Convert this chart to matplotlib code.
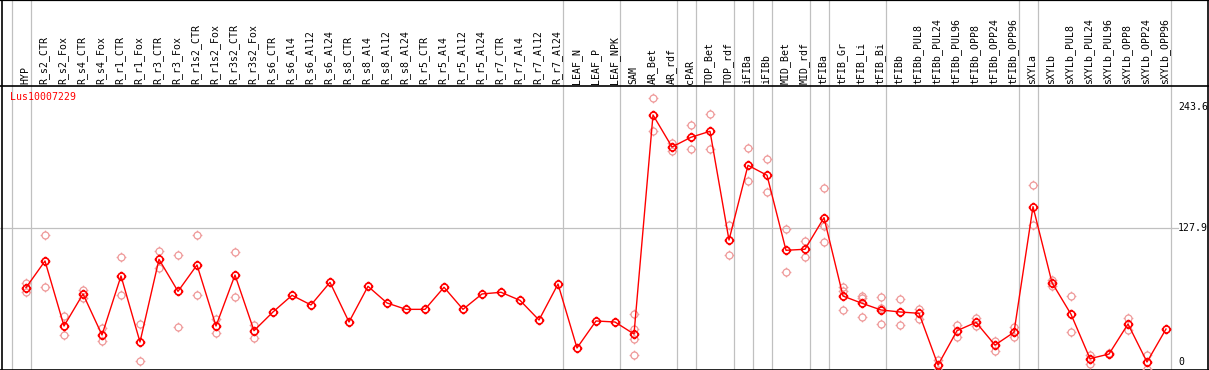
# plot.py
# Expression profile of Lus10007229 across tissues / treatments

import matplotlib
matplotlib.use("Agg")
import matplotlib.pyplot as plt
from matplotlib.path import Path

gene = "Lus10007229"

samples = [
    "HYP", "R_s2_CTR", "R_s2_Fox", "R_s4_CTR", "R_s4_Fox", "R_r1_CTR", "R_r1_Fox",
    "R_r3_CTR", "R_r3_Fox", "R_r1s2_CTR", "R_r1s2_Fox", "R_r3s2_CTR", "R_r3s2_Fox",
    "R_s6_CTR", "R_s6_Al4", "R_s6_Al12", "R_s6_Al24", "R_s8_CTR", "R_s8_Al4",
    "R_s8_Al12", "R_s8_Al24", "R_r5_CTR", "R_r5_Al4", "R_r5_Al12", "R_r5_Al24",
    "R_r7_CTR", "R_r7_Al4", "R_r7_Al12", "R_r7_Al24", "LEAF_N", "LEAF_P", "LEAF_NPK",
    "SAM", "AR_Bet", "AR_rdf", "cPAR", "TOP_Bet", "TOP_rdf", "iFIBa", "iFIBb",
    "MID_Bet", "MID_rdf", "tFIBa", "tFIB_Gr", "tFIB_Li", "tFIB_Bi", "tFIBb",
    "tFIBb_PUL8", "tFIBb_PUL24", "tFIBb_PUL96", "tFIBb_OPP8", "tFIBb_OPP24",
    "tFIBb_OPP96", "sXYLa", "sXYLb", "sXYLb_PUL8", "sXYLb_PUL24", "sXYLb_PUL96",
    "sXYLb_OPP8", "sXYLb_OPP24", "sXYLb_OPP96",
]

means = [
    71.0, 96.5, 34.4, 65.0, 25.8, 82.2, 19.1, 98.1, 67.5, 92.7, 34.4, 83.1, 29.9,
    47.8, 63.7, 54.5, 76.1, 38.2, 72.3, 56.4, 50.3, 50.3, 71.4, 50.3, 65.0,
    66.6, 58.9, 40.1, 74.5, 13.4, 39.2, 38.2,
    26.7, 236.0, 205.4, 214.7, 220.4, 116.5, 187.9, 178.4, 106.7, 107.7, 137.9,
    63.0, 56.1, 49.7, 47.8, 46.5, -2.9, 29.9, 37.9, 16.2, 28.4,
    148.4, 75.8, 45.6, 3.2, 7.6, 36.3, 0.0, 31.5,
]

replicates = [
    [66.6, 75.4], [121.0, 71.4], [43.9, 25.8], [68.8, 60.9], [32.2, 20.1],
    [100.3, 63.7], [36.0, 1.0], [106.0, 89.5], [102.2, 33.1], [121.0, 63.7],
    [41.1, 27.4], [104.8, 62.1], [35.6, 22.6],
    [], [], [], [], [], [], [], [], [], [], [], [], [], [], [], [], [], [], [],
    [45.9, 31.2, 22.3, 6.4], [251.9, 220.7], [208.9, 201.9], [226.4, 203.2],
    [236.9, 203.2], [130.9, 102.2], [204.1, 172.6], [193.6, 162.1],
    [126.8, 85.7], [115.3, 100.0], [165.9, 130.2, 114.9],
    [71.9, 67.8, 49.7], [63.0, 60.9, 43.3], [61.8, 51.3, 36.0], [59.9, 35.1],
    [50.9, 41.4], [1.9, -7.7], [35.1, 24.2], [42.3, 34.7], [20.3, 10.8],
    [33.1, 24.2], [168.8, 131.2], [78.3, 72.9], [62.8, 28.4], [6.7, -1.9],
    [8.3], [42.0, 30.3], [6.7, -7.0], [],
]

# separators are drawn after these sample indices
group_ends = [-1, 0, 28, 31, 34, 35, 37, 38, 39, 41, 42, 45, 52, 53, 60]
scale_labels = [243.6, 127.9, 0]


def tick_circle():
    # hollow circle with four small ticks, like the original markers
    circ = Path.unit_circle()
    ticks = Path(
        [(0, 1), (0, 1.4), (0, -1), (0, -1.4), (1, 0), (1.4, 0), (-1, 0), (-1.4, 0)],
        [Path.MOVETO, Path.LINETO] * 4,
    )
    return Path.make_compound_path(circ, ticks)


W, H = 1209, 370
fig = plt.figure(figsize=(W / 100, H / 100), dpi=100)
ax = fig.add_axes([0, 0, 1, 1])
ax.axis("off")

# pixel layout: column i at x = 26 + 19*i, value 0 at y=362, 1.0468 px per unit
ax.set_xlim(-26 / 19, (W - 26) / 19)
ax.set_ylim((362 - H) / 1.0468, 362 / 1.0468)

mono = "DejaVu Sans Mono"
grey = "#c0c0c0"

for g in group_ends:
    ax.axvline(g + 0.24, color=grey, lw=0.9, zorder=1)
ax.axhline(127.9, xmax=1178 / W, color=grey, lw=0.9, zorder=1)

# frame and header separator
ax.plot([0, 1], [1 - 85.5 / H] * 2, transform=ax.transAxes, color="black", lw=1.2, clip_on=False)
ax.plot([0, 1], [0.999, 0.999], transform=ax.transAxes, color="black", lw=1.6, clip_on=False)
ax.plot([0, 1], [0.5 / H, 0.5 / H], transform=ax.transAxes, color="black", lw=1.2, clip_on=False)
ax.plot([1.5 / W, 1.5 / W], [0, 1], transform=ax.transAxes, color="black", lw=1.2, clip_on=False)
ax.plot([1207.5 / W] * 2, [0, 1], transform=ax.transAxes, color="black", lw=1.2, clip_on=False)

xs = list(range(len(samples)))
marker = tick_circle()

rx, ry = [], []
for i, reps in enumerate(replicates):
    for v in reps:
        rx.append(i)
        ry.append(v)
ax.plot(rx, ry, linestyle="none", marker=marker, ms=7, mfc="none",
        mec="#ef9a9a", mew=0.9, zorder=2)

ax.plot(xs, means, color="red", lw=1.0, zorder=3)
ax.plot(xs, means, linestyle="none", marker=marker, ms=7, mfc="none",
        mec="red", mew=1.2, zorder=4)

# column labels in the header
xtrans = ax.get_xaxis_transform()
for i, name in enumerate(samples):
    ax.text(i - 0.05, 1 - 84 / H, name, transform=xtrans, rotation=90,
            ha="center", va="bottom", family=mono, fontsize=7.1, color="black")

# value labels on the right
for v in scale_labels:
    ax.text(1178 / W, v, str(v), transform=ax.get_yaxis_transform(),
            ha="left", va="center", family=mono, fontsize=7.1, color="black")

fig.text(10 / W, 1 - 97 / H, gene, ha="left", va="center", family=mono,
         fontsize=7.1, color="red")

fig.savefig("out.png", dpi=100)
